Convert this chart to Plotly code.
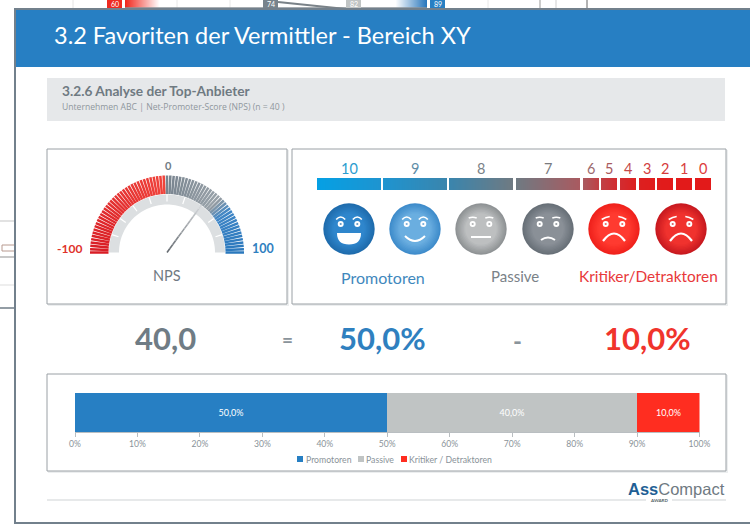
import math
import plotly.graph_objects as go

# ---------- data ----------
nps_value = 40.0
gauge_labels = ["-100", "0", "100"]
score_labels = ["10", "9", "8", "7", "6", "5", "4", "3", "2", "1", "0"]
group_labels = ["Promotoren", "Passive", "Kritiker/Detraktoren"]
segment_names = ["Promotoren", "Passive", "Kritiker / Detraktoren"]
segment_values = [50.0, 40.0, 10.0]
segment_labels = ["50,0%", "40,0%", "10,0%"]
axis_ticks = [0, 10, 20, 30, 40, 50, 60, 70, 80, 90, 100]
big_numbers = ["40,0", "50,0%", "10,0%"]

BLUE, GREY, RED = "#277fc3", "#c0c4c4", "#ff2d20"
SLATE = "#77838c"
FONT = "Lato"

shapes, annots = [], []


def rect(x0, y0, x1, y1, fill="rgba(0,0,0,0)", line=None, lw=1, layer="below"):
    shapes.append(dict(type="rect", xref="x", yref="y", x0=x0, y0=y0, x1=x1, y1=y1,
                       fillcolor=fill, line=dict(color=line or fill, width=lw if line else 0), layer=layer))


def seg(x0, y0, x1, y1, color, lw=1, layer="below"):
    shapes.append(dict(type="line", xref="x", yref="y", x0=x0, y0=y0, x1=x1, y1=y1,
                       line=dict(color=color, width=lw), layer=layer))


def circle(cx, cy, r, fill, layer="above"):
    shapes.append(dict(type="circle", xref="x", yref="y", x0=cx - r, y0=cy - r, x1=cx + r, y1=cy + r,
                       fillcolor=fill, line=dict(width=0), layer=layer))


def path(d, fill=None, line=None, lw=1, layer="above"):
    shapes.append(dict(type="path", xref="x", yref="y", path=d, fillcolor=fill or "rgba(0,0,0,0)",
                       line=dict(color=line or "rgba(0,0,0,0)", width=lw), layer=layer))


def text(x, y, s, size, color, bold=False, anchor="center", family=FONT):
    annots.append(dict(xref="x", yref="y", x=x, y=y, text=f"<b>{s}</b>" if bold else s, showarrow=False,
                       xanchor=anchor, yanchor="middle", font=dict(size=size, color=color, family=family)))


def hexrgb(c):
    return tuple(int(c[i:i + 2], 16) for i in (1, 3, 5))


def mix(a, b, t):
    a, b = hexrgb(a), hexrgb(b)
    return "rgb(%d,%d,%d)" % tuple(round(a[i] + (b[i] - a[i]) * t) for i in range(3))


def gradient_rect(x0, x1, y0, y1, c0, c1, layer="below"):
    # slices overlap their neighbour so no seam shows; the last one ends exactly at x1
    n = max(1, int(round(x1 - x0)))
    for i in range(n):
        t = i / max(1, n - 1)
        left = x0 + (x1 - x0) * i / n
        right = min(x1, left + (x1 - x0) / n + 1)
        rect(left, y0, right, y1, mix(c0, c1, t), layer=layer)


# ---------- slide behind the frame ----------
for vx, col in [(73, "#e4e4e4"), (177, "#e8e8e8"), (230, "#e8e8e8"), (488, "#e8e8e8"), (540, "#999999"),
                (556, "#cfcfcf"), (587, "#666666")]:
    seg(vx, 0, vx, 9, col)
gradient_rect(125, 160, 0, 8, "#f0281e", "#ffffff")
gradient_rect(395, 427, 0, 8, "#ffffff", "#2a78bd")
seg(125, 8, 427, 8, "#8a9299", 1.5)
seg(278, 2, 346, 9, "#7a8288", 2)
for bx, col, s in [(107, "#ee2a20", "60"), (263, SLATE, "74"), (346, "#c0c4c4", "82"), (430, BLUE, "89")]:
    rect(bx, 0, bx + 15, 9, col)
    text(bx + 7.5, 4.2, s, 7, "#ffffff")
for y, col, lw in [(221, "#cfcfcf", 1.2), (257, "#c8c8c8", 2), (285, "#dddddd", 1), (308, "#6f7c87", 1.5)]:
    seg(0, y, 15, y, col, lw)
rect(2, 245, 15, 251, "#ffffff", "#b89a90", 1)

# ---------- main frame ----------
rect(15, 9, 752, 523, "#ffffff", "#72808c", 2)
rect(16, 10, 750, 67, BLUE)
text(51.5, 35, "3.2 Favoriten der Vermittler - Bereich XY", 23.5, "#ffffff", anchor="left")
rect(47, 78, 725, 121, "#e6e8ea")
text(60, 90, "3.2.6 Analyse der Top-Anbieter", 13.7, "#6f7a82", bold=True, anchor="left")
text(60, 107, "Unternehmen ABC | Net-Promoter-Score (NPS) (n = 40 )", 8.6, "#8f979d", anchor="left",
     family="Open Sans")

for x0, y0, x1, y1 in [(47, 149, 287, 304), (292, 149, 726, 304), (47, 374, 726, 471)]:
    rect(x0 + 1, y0 + 1, x1 + 2, y1 + 2, "#eceeef")
    rect(x0, y0, x1, y1, "#ffffff", "#9aa0a5", 1)

# ---------- gauge ----------
cx, cy = 167, 252.5
r_ring0, r_ring1, r_t0, r_t1 = 48, 58, 58.5, 77


def polar(r, deg):
    a = math.radians(deg)
    return cx + r * math.cos(a), cy - r * math.sin(a)


ring = [polar(r_ring1, 180 - 180 * i / 72) for i in range(73)] + [polar(r_ring0, 180 * i / 72) for i in range(73)]
path("M" + "L".join(f"{x:.2f},{y:.2f}" for x, y in ring) + "Z", fill="#dcdfe1", layer="below")
for v in range(-80, 81, 20):
    deg = 90 - v * 0.9
    x0, y0 = polar(r_ring0 + 3, deg)
    x1, y1 = polar(r_ring1, deg)
    seg(x0, y0, x1, y1, "#ffffff", 1.2)

ticks = []
N = 72
for i in range(N + 1):
    v = -100 + 200 * i / N
    if v < 0:
        c = mix("#d81c24", "#f0443c", (v + 100) / 100)
    elif v < 50:
        c = mix("#78848f", "#9aa3aa", v / 50)
    elif v < 62:
        c = mix("#8f99a2", "#3f86c6", (v - 50) / 12)
    else:
        c = mix("#3f86c6", "#2a78bd", (v - 62) / 38)
    deg = 90 - v * 0.9
    x0, y0 = polar(r_t0, deg)
    x1, y1 = polar(r_t1, deg)
    ticks.append(go.Scatter(x=[x0, x1], y=[y0, y1], mode="lines", line=dict(color=c, width=2.5),
                            hoverinfo="skip", showlegend=False, xaxis="x", yaxis="y"))

# needle is drawn from the value, dark at the hub and fading to the tip
needle_deg = 90 - nps_value * 0.9
for i in range(12):
    x0, y0 = polar(59 * i / 12, needle_deg)
    x1, y1 = polar(59 * (i + 1) / 12, needle_deg)
    ticks.append(go.Scatter(x=[x0, x1], y=[y0, y1], mode="lines",
                            line=dict(color=mix("#666c72", "#d2d5d8", i / 11), width=1.6),
                            hoverinfo="skip", showlegend=False, xaxis="x", yaxis="y"))

text(83.5, 248.5, gauge_labels[0], 12, "#e0322c", bold=True, anchor="right")
text(168, 165, gauge_labels[1], 11, "#6f7c85", bold=True)
text(250, 248.5, gauge_labels[2], 12.5, "#2f80c0", bold=True, anchor="left")
text(167, 275, "NPS", 14.5, "#6f7a82")

# ---------- score bar ----------
bounds = [(317, 381), (383, 447), (449, 513), (516, 580), (583, 599), (601, 617), (620, 636),
          (639, 655), (657, 673), (676, 692), (695, 711)]
stops = ["#05a0e4", "#1e94d0", "#3a85ad", "#6f7a82", "#a95a60", "#c04045", "#d22c30", "#dc2020", "#e01c1c",
         "#e21a1a", "#e21a1a", "#e21a1a"]
label_cols = ["#2b9ccf", "#5f8ea8", "#7a8288", "#7a7a7e", "#9b6a6e", "#a95a5e", "#c44a4a", "#d04040", "#d53a3a",
              "#d84040", "#dc3c3c"]
for i, (x0, x1) in enumerate(bounds):
    gradient_rect(x0, x1, 178, 190, stops[i], stops[i + 1])
    text((x0 + x1) / 2, 168, score_labels[i], 14.5, label_cols[i])

# ---------- faces ----------
R = 25.7
faces = [
    (349, "#2f86cc", "#1f6cad", "laugh", "up"),
    (415, "#6aaee0", "#3f8ccb", "smile", "up"),
    (481, "#bdbfc0", "#8f9395", "flat", "flat"),
    (548, "#8a9097", "#687078", "slight", "flat"),
    (614, "#ff3a30", "#f0221c", "frown", "sad"),
    (681, "#f0322e", "#c81a20", "frown", "sad"),
]
for fx, inner, outer, mouth, brow in faces:
    fy = 229
    for k in range(8):
        circle(fx, fy, R * (1 - k * 0.055), mix(outer, inner, k / 7))
    for side in (-1, 1):
        circle(fx + side * 8.3, fy - 5, 3, "#ffffff")
        circle(fx + side * 8.3, fy - 5, 1.1, mix(outer, "#ffffff", 0.3))
        ex = fx + side * 8.3
        if brow == "up":
            path(f"M{ex - 4.5},{fy - 9.5} Q{ex},{fy - 14.5} {ex + 4.5},{fy - 9.5}", line="#ffffff", lw=1.6)
        elif brow == "flat":
            path(f"M{ex - 4},{fy - 11} Q{ex},{fy - 12.5} {ex + 4},{fy - 11}", line="#ffffff", lw=1.6)
        else:
            path(f"M{ex - 4 * side},{fy - 13.5 + 1} Q{ex},{fy - 12} {ex + 4 * side},{fy - 9.5}", line="#ffffff", lw=1.6)
    if mouth == "laugh":
        path(f"M{fx - 12},{fy + 4} H{fx + 12} Q{fx + 12},{fy + 15.5} {fx},{fy + 15.5} Q{fx - 12},{fy + 15.5} {fx - 12},{fy + 4}Z",
             fill="#ffffff")
    elif mouth == "smile":
        path(f"M{fx - 10},{fy + 7} Q{fx},{fy + 17} {fx + 10},{fy + 7}", line="#ffffff", lw=2)
    elif mouth == "flat":
        seg(fx - 10, fy + 8, fx + 10, fy + 8, "#ffffff", 2, layer="above")
    elif mouth == "slight":
        path(f"M{fx - 7},{fy + 11} Q{fx},{fy + 6} {fx + 7},{fy + 11}", line="#ffffff", lw=2)
    else:
        path(f"M{fx - 11},{fy + 12} Q{fx},{fy - 3} {fx + 11},{fy + 12}", line="#ffffff", lw=2.2)

text(383, 277, group_labels[0], 16, "#3f88bd")
text(515, 276, group_labels[1], 15, "#7a8288")
text(648, 276, group_labels[2], 15.4, "#e8383a")

# ---------- equation ----------
text(165, 338, big_numbers[0], 31, "#6f7c85", bold=True)
text(287, 339, "=", 19, "#8a949b", bold=True)
text(382, 338, big_numbers[1], 31, "#2f80bf", bold=True)
text(517, 340, "-", 24, "#8a949b", bold=True)
text(647, 338, big_numbers[2], 31, "#f0342c", bold=True)

# ---------- stacked bar ----------
colors = [BLUE, GREY, RED]
bars = []
for name, val, lab, col in zip(segment_names, segment_values, segment_labels, colors):
    bars.append(go.Bar(x=[val], y=[""], name=name, orientation="h", marker=dict(color=col, line=dict(width=0)),
                       text=[lab], textposition="inside", insidetextanchor="middle",
                       textfont=dict(color="#ffffff", size=9, family=FONT), showlegend=False,
                       xaxis="x2", yaxis="y2", hoverinfo="name+x"))

# legend row
for sx, col, tx, name in [(297, BLUE, 303.5, segment_names[0]), (358, GREY, 364, segment_names[1]),
                          (401, RED, 407, segment_names[2])]:
    rect(sx, 456, sx + 6, 462, col, layer="above")
    text(tx, 459, name, 8.7, "#8a9399", anchor="left")

# ---------- logo ----------
seg(47, 500, 726, 500, "#cfd3d6", 1.2)
annots.append(dict(xref="x", yref="y", x=727, y=488.5, showarrow=False, xanchor="right", yanchor="middle",
                   text='<b><span style="color:#1f5f95">Ass</span></b><span style="color:#6f7a82">Compact</span>',
                   font=dict(size=16.5, family="Liberation Sans")))
rect(646, 496, 672, 504, "#ffffff", layer="above")
text(659, 500, "AWARD", 4.5, "#555f66", bold=True)

fig = go.Figure(data=ticks + bars)
fig.update_layout(
    width=750, height=527, margin=dict(l=0, r=0, t=0, b=0), paper_bgcolor="#ffffff", plot_bgcolor="rgba(0,0,0,0)",
    barmode="stack", bargap=0, showlegend=False, shapes=shapes, annotations=annots, font=dict(family=FONT),
    xaxis=dict(range=[0, 750], domain=[0, 1], visible=False, fixedrange=True, automargin=False),
    yaxis=dict(range=[527, 0], domain=[0, 1], visible=False, fixedrange=True, automargin=False),
    xaxis2=dict(range=[0, 100], domain=[75 / 750, 699.5 / 750], anchor="y2", tickvals=axis_ticks,
                ticktext=[f"{t}%" for t in axis_ticks], showgrid=False, zeroline=False, showline=True,
                linecolor="#b9bec1", linewidth=1, ticks="outside", ticklen=4, tickcolor="#b9bec1",
                tickfont=dict(size=8.6, color="#8a9399", family=FONT), automargin=False, fixedrange=True),
    yaxis2=dict(domain=[(527 - 432) / 527, (527 - 393) / 527], anchor="x2", visible=False, fixedrange=True,
                automargin=False),
)
fig.write_html("out.html", config={"displayModeBar": False},
               post_script="document.body.style.margin='0';document.body.style.overflow='hidden';")
